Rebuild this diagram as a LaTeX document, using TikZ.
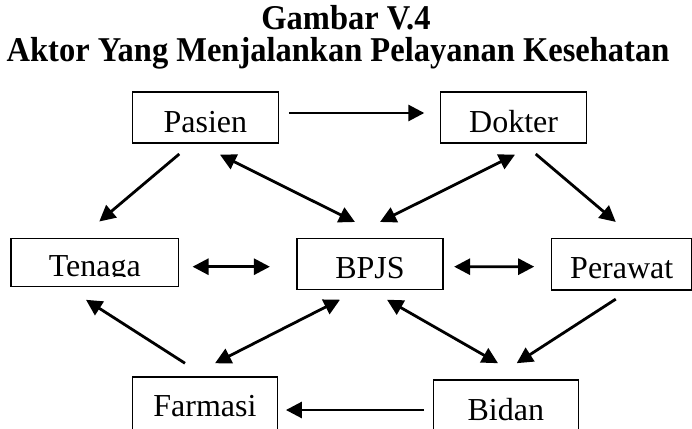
\documentclass[tikz,border=0pt]{standalone}
\usepackage{fontspec}
\setmainfont{Liberation Serif}
\usetikzlibrary{arrows.meta}

\begin{document}
\begin{tikzpicture}[
    x=1pt, y=-1pt,
    actor/.style={rectangle, draw, line width=1.6pt, inner sep=0pt, minimum height=51pt,
        text height=29pt, text depth=0pt, font=\fontsize{32}{38}\selectfont},
    flow/.style={line width=2.8pt, -{Triangle[length=16pt, width=16pt]}},
    twoway/.style={line width=2.8pt, {Triangle[length=16pt, width=16pt]}-{Triangle[length=16pt, width=16pt]}},
    heading/.style={font=\fontsize{32.5}{38}\selectfont\bfseries, anchor=base, inner sep=0pt}
]
\useasboundingbox (0,0) rectangle (692,428);
\clip (0,0) rectangle (692,428);

% Title
\node[heading] (gambar) at (346,30) {\scalebox{1}[1.07]{Gambar V.4}};
\node[heading] (judul) at (338,61) {\scalebox{1}[1.07]{Aktor Yang Menjalankan Pelayanan Kesehatan}};

% Top row
\node[actor, minimum width=146pt] (pasien) at (205.4,117.7) {Pasien};
\node[actor, minimum width=146pt] (dokter) at (513.6,117.7) {Dokter};

% Middle row
\node[actor, minimum width=167.5pt, minimum height=48.2pt] (tenaga) at (94.8,262.4) {};
\begin{scope}
\clip (tenaga.north west) rectangle ([yshift=11pt]tenaga.south east);
\node[actor, draw=none] (tenagatext) at (94.8,262.4) {Tenaga};
\end{scope}
\node[actor, minimum width=146pt] (bpjs) at (370,263.9) {BPJS};
\node[actor, minimum width=140.5pt, minimum height=51.7pt] (perawat) at (621.75,264.15) {Perawat};

% Bottom row
\node[actor, minimum width=145pt, minimum height=54.3pt, text height=25.6pt] (farmasi) at (204.9,403.9) {Farmasi};
\node[actor, minimum width=145pt] (bidan) at (505.8,405.5) {Bidan};

% One-way arrows
\draw[flow] ([xshift=9.7pt,yshift=4.7pt]pasien.east) -- ([xshift=-15.5pt,yshift=4.7pt]dokter.west);
\draw[flow] ([xshift=-26.1pt,yshift=-10pt]pasien.south) -- ([xshift=4.5pt,yshift=16pt]tenaga.north);
\draw[flow] ([xshift=22.1pt,yshift=-10pt]dokter.south) -- ([xshift=-6pt,yshift=15.6pt]perawat.north);
\draw[flow] ([xshift=-19.9pt,yshift=12.7pt]farmasi.north) -- ([xshift=-8.8pt,yshift=-12.5pt]tenaga.south);
\draw[flow] ([xshift=-6pt,yshift=-8.3pt]perawat.south) -- ([xshift=10.9pt,yshift=16pt]bidan.north);
\draw[flow] ([xshift=-8.3pt,yshift=-4.5pt]bidan.west) -- ([xshift=7.7pt,yshift=-6.1pt]farmasi.east);

% Two-way arrows with BPJS
\draw[twoway] ([xshift=14.6pt,yshift=-10.7pt]pasien.south) -- ([xshift=-15pt,yshift=15.6pt]bpjs.north);
\draw[twoway] ([xshift=1.4pt,yshift=-10.7pt]dokter.south) -- ([xshift=10pt,yshift=15.6pt]bpjs.north);
\draw[twoway] ([xshift=13.2pt,yshift=-4.3pt]tenaga.east) -- ([xshift=-26.3pt,yshift=-2.8pt]bpjs.west);
\draw[twoway] ([xshift=10.3pt,yshift=-2.8pt]bpjs.east) -- ([xshift=-16.5pt,yshift=-2.5pt]perawat.west);
\draw[twoway] ([xshift=-30pt,yshift=-9.5pt]bpjs.south) -- ([xshift=10.1pt,yshift=12.7pt]farmasi.north);
\draw[twoway] ([xshift=17pt,yshift=-9.5pt]bpjs.south) -- ([xshift=-7.8pt,yshift=16pt]bidan.north);

\end{tikzpicture}
\end{document}
